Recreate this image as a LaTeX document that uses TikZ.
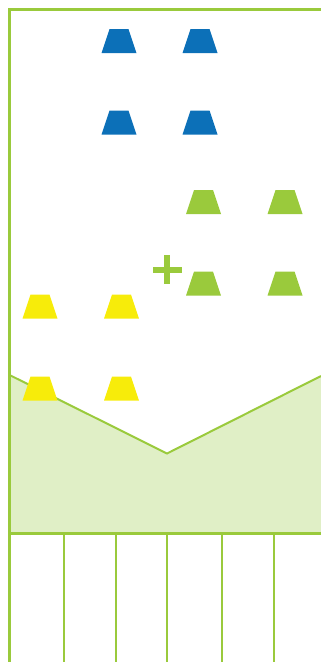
\documentclass[tikz,border=0pt]{standalone}
\begin{document}
\begin{tikzpicture}[x=1pt,y=-1pt]
\definecolor{lgreen}{HTML}{9ACA3C}
\definecolor{pale}{HTML}{E0EFC6}
\definecolor{cblue}{HTML}{0C70B8}
\definecolor{cyellow}{HTML}{F7EC0A}
\tikzset{
  cone/.pic={\fill (-17.5,12) -- (17.5,12) -- (9.5,-12) -- (-9.5,-12) -- cycle;},
  frameline/.style={draw=lgreen, line width=2.5pt},
  divline/.style={draw=lgreen, line width=2pt}
}
\useasboundingbox (0,0) rectangle (321,662);
% pale green ground with V-shaped top
\fill[pale] (9.5,375) -- (167,453.5) -- (321,376) -- (321,533) -- (9.5,533) -- cycle;
\draw[lgreen, line width=2pt] (9.5,375) -- (167,453.5) -- (321,376);
% frame
\draw[frameline] (321,9.5) -- (9.5,9.5) -- (9.5,662);
\draw[frameline] (9.5,533.5) -- (321,533.5);
% divisions
\foreach \x in {63.5,115.5,167,221.5,273.5}
  \draw[divline] (\x,533.5) -- (\x,662);
% blue cones
\foreach \x in {119,200} {
  \pic[cblue] at (\x,41) {cone};
  \pic[cblue] at (\x,122.5) {cone};
}
% green cones
\foreach \x in {203.5,285} {
  \pic[lgreen] at (\x,202) {cone};
  \pic[lgreen] at (\x,283.5) {cone};
}
% yellow cones
\foreach \x in {40,121.5} {
  \pic[cyellow] at (\x,306.5) {cone};
  \pic[cyellow] at (\x,388.5) {cone};
}
% plus sign
\fill[lgreen] (152.5,266.5) rectangle (182,272.5);
\fill[lgreen] (164.3,255) rectangle (170.3,284);
\end{tikzpicture}
\end{document}
